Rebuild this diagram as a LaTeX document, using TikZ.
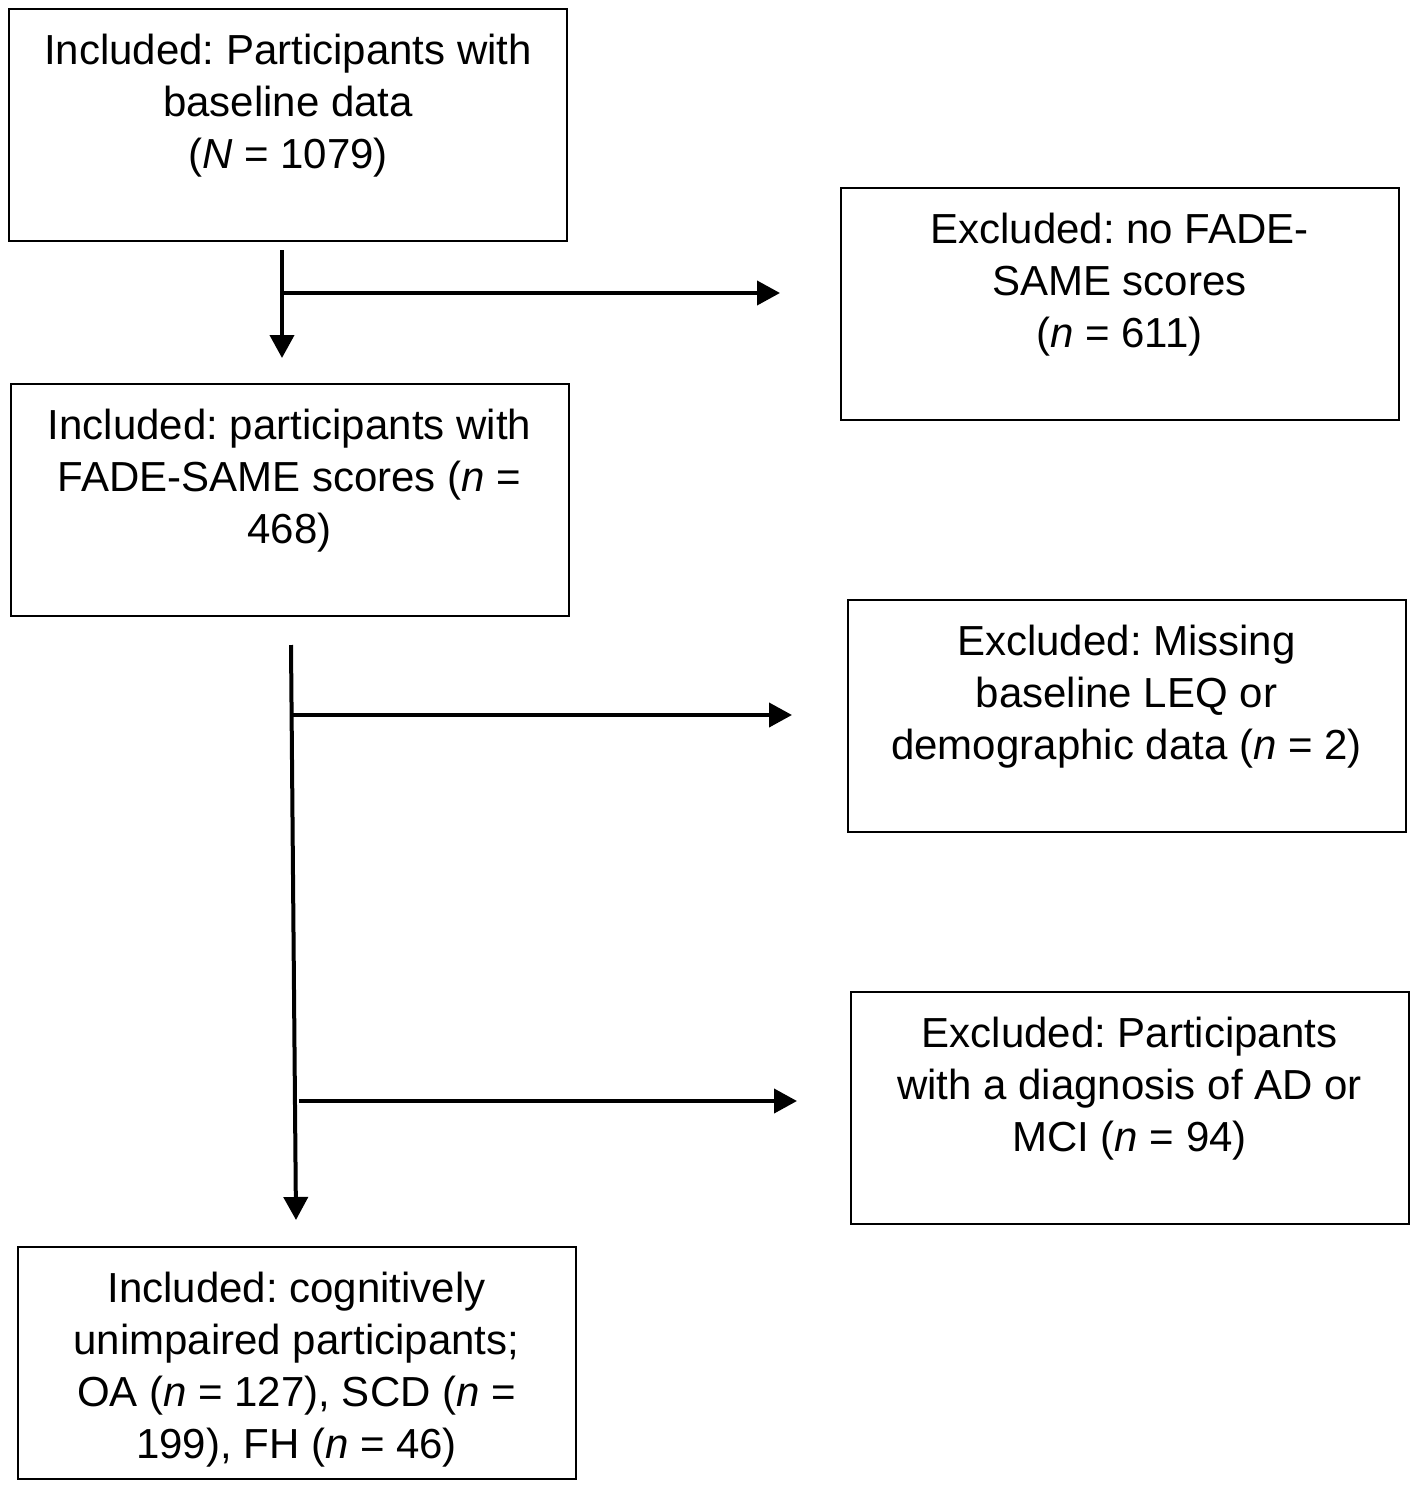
\documentclass[tikz,border=0pt]{standalone}
\usepackage{fontspec}
\setmainfont{Liberation Sans}
\usetikzlibrary{arrows.meta}
\frenchspacing
\begin{document}
\begin{tikzpicture}[x=0.5pt,y=-0.5pt,
  box/.style={draw, line width=1pt, minimum width=279pt, minimum height=116pt, inner sep=0pt},
  txt/.style={anchor=north, align=center, inner sep=0pt, font=\fontsize{21}{26}\selectfont, yshift=-13pt},
  arr/.style={line width=2pt, -{Triangle[length=11.5pt,width=12pt]}},
  ln/.style={line width=2pt}]
\useasboundingbox (0,0) rectangle (1418,1489);
% boxes
\node[box] (b1) at (288,125) {};
\node[box] (b2) at (1119.5,304) {};
\node[box] (b3) at (289.5,500) {};
\node[box] (b4) at (1126.5,716) {};
\node[box] (b5) at (1129.5,1108) {};
\node[box] (b6) at (296.5,1363) {};
% texts
\node[txt] (t1) at (b1.north) {Included: Participants with\\baseline data\\(\textit{N} = 1079)};
\node[txt] (t2) at (b2.north) {Excluded: no FADE-\\SAME scores\\(\textit{n} = 611)};
\node[txt] (t3) at (b3.north) {Included: participants with\\FADE-SAME scores (\textit{n} =\\468)};
\node[txt] (t4) at (b4.north) {Excluded: Missing\\baseline LEQ or\\demographic data (\textit{n} = 2)};
\node[txt] (t5) at (b5.north) {Excluded: Participants\\with a diagnosis of AD or\\MCI (\textit{n} = 94)};
\node[txt] (t6) at (b6.north) {Included: cognitively\\unimpaired participants;\\OA (\textit{n} = 127), SCD (\textit{n} =\\199), FH (\textit{n} = 46)};
% connectors
\coordinate (s1) at (282,250);
\coordinate (e1) at (282,358);
\coordinate (j1) at (282,293);
\coordinate (h1) at (780,293);
\draw[arr] (s1) -- (e1);
\draw[arr] (j1) -- (h1);
\coordinate (s2) at (291,645);
\coordinate (e2) at (296,1220);
\coordinate (j2) at (292.5,715);
\coordinate (h2) at (792,715);
\coordinate (j3) at (299,1101);
\coordinate (h3) at (797,1101);
\draw[arr] (s2) -- (e2);
\draw[arr] (j2) -- (h2);
\draw[arr] (j3) -- (h3);
\end{tikzpicture}
\end{document}
